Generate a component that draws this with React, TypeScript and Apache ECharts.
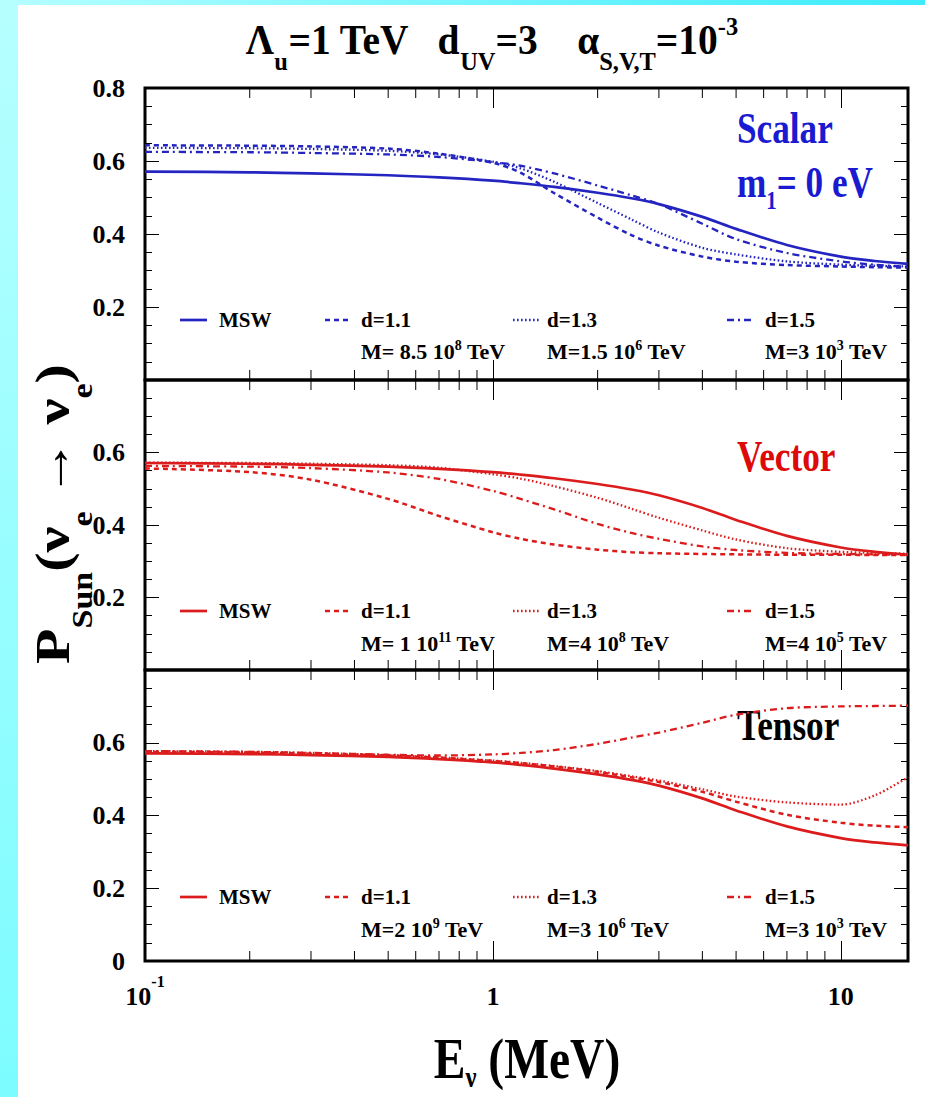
import React, { useEffect, useRef } from 'react';
import * as echarts from 'echarts';

// ---------------- data ----------------
const ENERGY_MEV = [0.1, 0.2, 0.3, 0.5, 0.7, 1, 1.2, 1.5, 2, 2.5, 3, 4, 5, 7, 10, 12.5, 15.6];

const MSW = [0.571, 0.569, 0.566, 0.561, 0.555, 0.546, 0.539, 0.529, 0.513, 0.498, 0.482, 0.447, 0.414, 0.370, 0.338, 0.326, 0.318];

const SCALAR_D11 = [0.643, 0.642, 0.640, 0.634, 0.620, 0.595, 0.568, 0.512, 0.445, 0.397, 0.368, 0.338, 0.324, 0.315, 0.311, 0.309, 0.308];
const SCALAR_D13 = [0.636, 0.635, 0.633, 0.628, 0.618, 0.598, 0.580, 0.543, 0.485, 0.440, 0.404, 0.362, 0.344, 0.325, 0.316, 0.313, 0.311];
const SCALAR_D15 = [0.625, 0.624, 0.622, 0.618, 0.611, 0.597, 0.587, 0.566, 0.533, 0.506, 0.482, 0.428, 0.386, 0.348, 0.325, 0.316, 0.310];

const VECTOR_D11 = [0.556, 0.546, 0.525, 0.472, 0.425, 0.380, 0.362, 0.346, 0.332, 0.325, 0.322, 0.320, 0.319, 0.318, 0.318, 0.317, 0.317];
const VECTOR_D13 = [0.572, 0.571, 0.569, 0.565, 0.558, 0.540, 0.528, 0.507, 0.475, 0.445, 0.420, 0.385, 0.360, 0.336, 0.326, 0.323, 0.321];
const VECTOR_D15 = [0.563, 0.561, 0.557, 0.545, 0.527, 0.494, 0.472, 0.443, 0.403, 0.378, 0.362, 0.341, 0.331, 0.323, 0.320, 0.319, 0.318];

const TENSOR_D11 = [0.575, 0.573, 0.570, 0.565, 0.559, 0.550, 0.544, 0.535, 0.520, 0.505, 0.492, 0.465, 0.438, 0.402, 0.380, 0.372, 0.368];
const TENSOR_D13 = [0.577, 0.575, 0.572, 0.566, 0.560, 0.551, 0.545, 0.536, 0.522, 0.508, 0.496, 0.472, 0.452, 0.436, 0.430, 0.455, 0.505];
const TENSOR_D15 = [0.577, 0.575, 0.572, 0.567, 0.565, 0.568, 0.572, 0.580, 0.597, 0.614, 0.628, 0.655, 0.677, 0.695, 0.700, 0.701, 0.702];

const SERIES_NAMES = ['MSW', 'd=1.1', 'd=1.3', 'd=1.5'];

const SCALAR_MASSES = [['M= 8.5 10', '8'], ['M=1.5 10', '6'], ['M=3 10', '3']];
const VECTOR_MASSES = [['M= 1 10', '11'], ['M=4 10', '8'], ['M=4 10', '5']];
const TENSOR_MASSES = [['M=2 10', '9'], ['M=3 10', '6'], ['M=3 10', '3']];

const SCALAR_Y_LABELS = [0.2, 0.4, 0.6, 0.8];
const VECTOR_Y_LABELS = [0.2, 0.4, 0.6];
const TENSOR_Y_LABELS = [0, 0.2, 0.4, 0.6];

const X_MIN_MEV = 0.1;
const X_MAX_MEV = 15.6;
const X_MINOR_TICKS_MEV = [0.2, 0.3, 0.4, 0.5, 0.6, 0.7, 0.8, 0.9, 2, 3, 4, 5, 6, 7, 8, 9];
const Y_MIN = 0;
const Y_MAX = 0.8;

// ---------------- style / layout ----------------
const FONT = 'Liberation Serif';
const BLUE = '#2424c0';
const RED = '#dc1c1c';
const PANEL_TOPS = [88, 380, 670];
const PANEL_BOTTOMS = [380, 670, 961];
const GRID_LEFT = 145;
const GRID_RIGHT = 17;
const LEGEND_ROWS = [[320, 351], [611, 643], [897, 929]];
const LEGEND_ICON_X = [[180, 207], [325, 352], [513, 539], [727, 755]];
const LEGEND_TEXT_X = [219, 361, 547, 765];

const LINE_STYLES = [
  { type: 'solid' as any, width: 2.7, dash: null as any },
  { type: [5, 4], width: 2.5, dash: [5, 4] },
  { type: [1.6, 2.4], width: 2.3, dash: [1.6, 2.4] },
  { type: [7, 4, 2, 4], width: 2.3, dash: [7, 4, 2, 4] },
];

const PANELS = [
  { color: BLUE, curves: [MSW, SCALAR_D11, SCALAR_D13, SCALAR_D15], masses: SCALAR_MASSES, yLabels: SCALAR_Y_LABELS },
  { color: RED, curves: [MSW, VECTOR_D11, VECTOR_D13, VECTOR_D15], masses: VECTOR_MASSES, yLabels: VECTOR_Y_LABELS },
  { color: RED, curves: [MSW, TENSOR_D11, TENSOR_D13, TENSOR_D15], masses: TENSOR_MASSES, yLabels: TENSOR_Y_LABELS },
];

function near(a: number, b: number) {
  return Math.abs(a - b) < 1e-6;
}

function buildOption() {
  const grid: any[] = [];
  const xAxis: any[] = [];
  const yAxis: any[] = [];
  const series: any[] = [];
  const graphic: any[] = [];
  const xMin = Math.log10(X_MIN_MEV);
  const xMax = Math.log10(X_MAX_MEV);

  PANELS.forEach((panel, p) => {
    grid.push({
      left: GRID_LEFT,
      right: GRID_RIGHT,
      top: PANEL_TOPS[p],
      height: PANEL_BOTTOMS[p] - PANEL_TOPS[p],
      show: true,
      borderColor: '#000',
      borderWidth: 3,
      backgroundColor: 'transparent',
      containLabel: false,
      outerBoundsMode: 'none',
    });
    const isBottom = p === PANELS.length - 1;
    const xBase = {
      gridIndex: p,
      type: 'value',
      min: xMin,
      max: xMax,
      interval: 1,
      axisLine: { show: false, onZero: false },
      axisTick: { show: true, inside: true, length: 20, lineStyle: { color: '#000', width: 1 } },
      splitLine: { show: false },
    };
    xAxis.push({
      ...xBase,
      position: 'bottom',
      axisLabel: {
        show: isBottom,
        margin: 12,
        showMinLabel: true,
        showMaxLabel: true,
        formatter: (v: number) => {
          if (near(v, -1)) return '{b|10}{p|-1}';
          if (near(v, 0)) return '{b|1}';
          if (near(v, 1)) return '{b|10}';
          return '';
        },
        rich: {
          b: { fontSize: 26, fontWeight: 'bold', fontFamily: FONT, color: '#000', lineHeight: 46 },
          p: { fontSize: 16, fontWeight: 'bold', fontFamily: FONT, color: '#000', lineHeight: 16, verticalAlign: 'top' },
        },
      },
    });
    xAxis.push({ ...xBase, position: 'top', axisLabel: { show: false } });

    const yBase = {
      gridIndex: p,
      type: 'value',
      min: Y_MIN,
      max: Y_MAX,
      interval: 0.2,
      axisLine: { show: false, onZero: false },
      axisTick: { show: true, inside: true, length: 14, lineStyle: { color: '#000', width: 1 } },
      minorTick: { show: true, splitNumber: 4, length: 7, lineStyle: { color: '#000', width: 1 } },
      splitLine: { show: false },
      minorSplitLine: { show: false },
    };
    const labels = panel.yLabels;
    yAxis.push({
      ...yBase,
      position: 'left',
      axisLabel: {
        show: true,
        margin: 20,
        showMinLabel: true,
        showMaxLabel: true,
        fontSize: 26,
        fontWeight: 'bold',
        fontFamily: FONT,
        color: '#000',
        formatter: (v: number) => {
          const hit = labels.find((l) => near(l, v));
          if (hit === undefined) return '';
          return hit === 0 ? '0' : hit.toFixed(1);
        },
      },
    });
    yAxis.push({ ...yBase, position: 'right', axisLabel: { show: false } });

    panel.curves.forEach((vals, k) => {
      const st = LINE_STYLES[k];
      series.push({
        type: 'line',
        name: `${p}-${SERIES_NAMES[k]}`,
        xAxisIndex: p * 2,
        yAxisIndex: p * 2,
        data: ENERGY_MEV.map((e, i) => [Math.log10(e), vals[i]]),
        showSymbol: false,
        symbol: 'none',
        smooth: 0.3,
        lineStyle: { color: panel.color, width: st.width, type: st.type },
        z: 5 - k,
        silent: true,
      });
    });

    // logarithmic minor ticks on the top and bottom edges
    series.push({
      type: 'custom',
      xAxisIndex: p * 2,
      yAxisIndex: p * 2,
      silent: true,
      clip: false,
      data: X_MINOR_TICKS_MEV.map((e) => [Math.log10(e), Y_MIN]),
      renderItem: (params: any, api: any) => {
        const x = api.value(0);
        const b = api.coord([x, Y_MIN]);
        const t = api.coord([x, Y_MAX]);
        return {
          type: 'group',
          children: [
            { type: 'line', shape: { x1: b[0], y1: b[1], x2: b[0], y2: b[1] - 10 }, style: { stroke: '#000', lineWidth: 1 } },
            { type: 'line', shape: { x1: t[0], y1: t[1], x2: t[0], y2: t[1] + 10 }, style: { stroke: '#000', lineWidth: 1 } },
          ],
        };
      },
    });

    // in-panel legend
    const [row1, row2] = LEGEND_ROWS[p];
    SERIES_NAMES.forEach((name, k) => {
      const st = LINE_STYLES[k];
      graphic.push({
        type: 'line',
        shape: { x1: LEGEND_ICON_X[k][0], y1: row1, x2: LEGEND_ICON_X[k][1], y2: row1 },
        style: { stroke: panel.color, lineWidth: st.width, lineDash: st.dash || undefined },
      });
      graphic.push({
        type: 'text',
        x: LEGEND_TEXT_X[k],
        y: row1,
        style: { text: name, fontSize: 21, fontWeight: 'bold', fontFamily: FONT, fill: '#000', align: 'left', verticalAlign: 'middle' },
      });
      if (k > 0) {
        const [pre, exp] = panel.masses[k - 1];
        graphic.push({
          type: 'text',
          x: LEGEND_TEXT_X[k],
          y: row2,
          style: {
            text: `{m|${pre}}{p|${exp}}{m| TeV}`,
            align: 'left',
            verticalAlign: 'middle',
            rich: {
              m: { fontSize: 22, fontWeight: 'bold', fontFamily: FONT, fill: '#000', lineHeight: 26 },
              p: { fontSize: 14, fontWeight: 'bold', fontFamily: FONT, fill: '#000', lineHeight: 14, verticalAlign: 'top' },
            },
          },
        });
      }
    });
  });

  const big = (color: string) => ({ fontSize: 44, fontWeight: 'bold', fontFamily: FONT, fill: color });
  graphic.push({ type: 'text', x: 737, y: 128, scaleX: 0.8, style: { text: 'Scalar', ...big('#1a1ad0'), align: 'left', verticalAlign: 'middle' } });
  graphic.push({
    type: 'text', x: 737, y: 182, scaleX: 0.8,
    style: {
      text: '{m|m}{s|1}{m|= 0 eV}', align: 'left', verticalAlign: 'middle',
      rich: {
        m: { ...big('#1a1ad0'), lineHeight: 62 },
        s: { fontSize: 26, fontWeight: 'bold', fontFamily: FONT, fill: '#1a1ad0', verticalAlign: 'bottom' },
      },
    },
  });
  graphic.push({ type: 'text', x: 737, y: 456, scaleX: 0.8, style: { text: 'Vector', ...big('#dd0a0a'), align: 'left', verticalAlign: 'middle' } });
  graphic.push({ type: 'text', x: 737, y: 725, scaleX: 0.8, style: { text: 'Tensor', ...big('#000'), align: 'left', verticalAlign: 'middle' } });

  // title
  graphic.push({
    type: 'text', x: 492, y: 40, scaleX: 0.94,
    style: {
      text: '{m|Λ}{s|u}{m|=1 TeV   d}{s|UV}{m|=3    α}{s|S,V,T}{m|=10}{p|-3}',
      align: 'center', verticalAlign: 'middle',
      rich: {
        m: { fontSize: 42, fontWeight: 'bold', fontFamily: FONT, fill: '#000', lineHeight: 68 },
        s: { fontSize: 26, fontWeight: 'bold', fontFamily: FONT, fill: '#000', verticalAlign: 'bottom' },
        p: { fontSize: 26, fontWeight: 'bold', fontFamily: FONT, fill: '#000', verticalAlign: 'top', padding: [7, 0, 0, 0] },
      },
    },
  });

  // y axis title
  graphic.push({
    type: 'text', x: 53, y: 514, rotation: Math.PI / 2, scaleY: 0.85,
    style: {
      text: '{m|P}{s|Sun}{m|(ν}{s|e}{m| → ν}{s|e}{m|)}',
      align: 'center', verticalAlign: 'middle',
      rich: {
        m: { fontSize: 58, fontWeight: 'bold', fontFamily: FONT, fill: '#000', lineHeight: 104 },
        s: { fontSize: 34, fontWeight: 'bold', fontFamily: FONT, fill: '#000', verticalAlign: 'bottom' },
      },
    },
  });

  // x axis title
  graphic.push({
    type: 'text', x: 527, y: 1058, scaleX: 0.82,
    style: {
      text: '{m|E}{s|ν}{m| (MeV)}',
      align: 'center', verticalAlign: 'middle',
      rich: {
        m: { fontSize: 58, fontWeight: 'bold', fontFamily: FONT, fill: '#000', lineHeight: 68 },
        s: { fontSize: 30, fontWeight: 'bold', fontFamily: FONT, fill: '#000', verticalAlign: 'bottom' },
      },
    },
  });

  return {
    animation: false,
    backgroundColor: 'transparent',
    textStyle: { fontFamily: FONT },
    grid,
    xAxis,
    yAxis,
    series,
    graphic,
  };
}

export default function App() {
  const ref = useRef<HTMLDivElement>(null);
  useEffect(() => {
    if (!ref.current) return;
    const chart = echarts.init(ref.current, undefined, { renderer: 'svg' });
    chart.setOption(buildOption() as any);
    return () => chart.dispose();
  }, []);
  return (
    <div style={{ position: 'fixed', left: 0, top: 0, width: 925, height: 1097, background: 'linear-gradient(to right, #b6ffff, #3cecff)' }}>
      <div style={{ position: 'absolute', left: 0, top: 5, width: 18, height: 1092, background: 'linear-gradient(to bottom, #b6ffff, #7cfcff)' }} />
      <div style={{ position: 'absolute', left: 18, top: 5, width: 907, height: 1092, background: '#ffffff' }} />
      <div ref={ref} style={{ position: 'absolute', left: 0, top: 0, width: 925, height: 1097 }} />
    </div>
  );
}
